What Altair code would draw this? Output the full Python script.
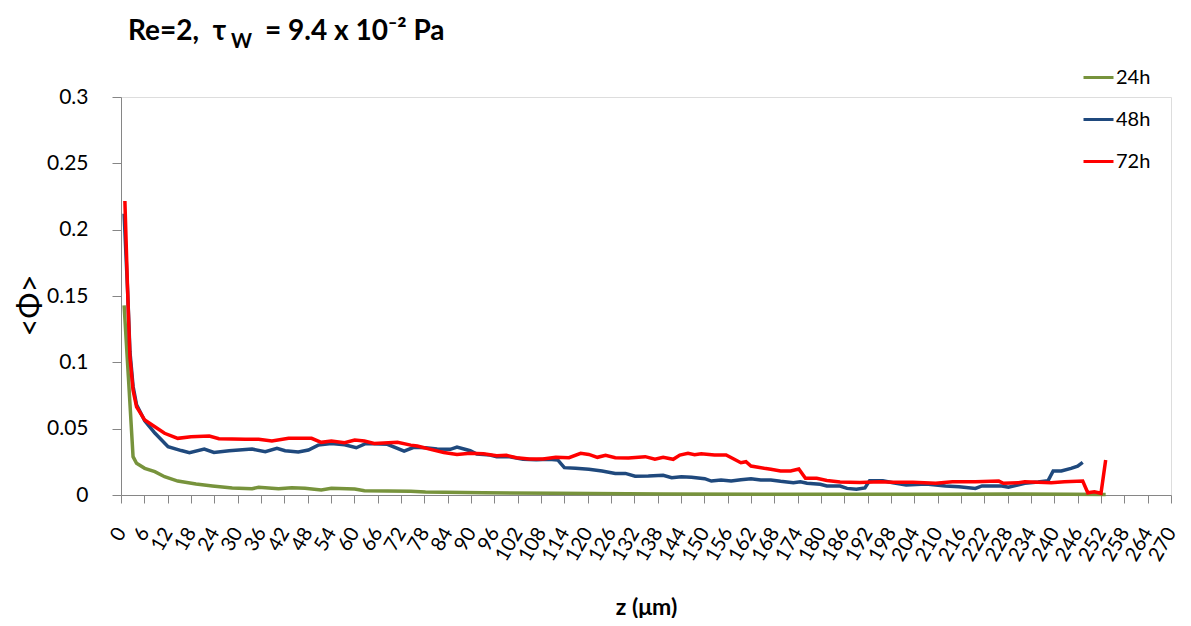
import altair as alt
import pandas as pd

# ---------------- data ----------------
series_names = ["24h", "48h", "72h"]
series_colors = ["#77933C", "#1F497D", "#FF0000"]

z24 = [0.8, 1.9, 3.1, 4.0, 6.1, 8.7, 11.2, 14.6, 19.3, 23.5, 28.6, 33.7, 35.4, 40.5,
       43.9, 47.3, 51.5, 54.1, 60.1, 62.6, 74.5, 78.3, 93.2, 111.8, 139.4, 173.0,
       211.0, 229.0, 244.3, 253.2]
v24 = [0.143, 0.089, 0.0289, 0.0239, 0.0201, 0.0176, 0.0138, 0.0105, 0.0083, 0.0068,
       0.0053, 0.0048, 0.0058, 0.0048, 0.0055, 0.0050, 0.0038, 0.0050, 0.0045, 0.0032,
       0.0028, 0.0023, 0.0017, 0.0013, 0.0008, 0.0006, 0.0005, 0.0007, 0.0005, 0.0003]

z48 = [0.8, 1.7, 2.3, 3.1, 4.0, 6.1, 8.7, 12.1, 15.5, 17.6, 21.4, 23.9, 27.8, 33.7,
       37.1, 40.1, 42.2, 45.6, 48.2, 50.7, 54.1, 57.5, 60.5, 63.0, 68.5, 72.8, 75.3,
       78.3, 81.3, 84.7, 86.4, 89.8, 91.5, 94.9, 96.6, 99.9, 103.4, 106.8, 110.1, 112.3,
       114.0, 116.9, 120.3, 123.7, 127.1, 129.7, 132.2, 135.6, 139.4, 141.6, 144.1,
       146.7, 150.1, 151.8, 154.3, 156.9, 159.4, 162.0, 164.5, 167.1, 169.6, 172.9,
       174.7, 176.4, 179.8, 181.5, 184.9, 186.7, 189.1, 191.3, 192.5, 195.9, 198.5,
       201.9, 207.0, 212.0, 215.5, 219.7, 221.4, 226.5, 228.2, 232.4, 235.8, 238.4,
       239.7, 241.8, 244.3, 246.0, 247.3]
v48 = [0.212, 0.154, 0.108, 0.082, 0.068, 0.056, 0.0467, 0.0364, 0.0335, 0.0319, 0.0346,
       0.0321, 0.0334, 0.0346, 0.0326, 0.0351, 0.0334, 0.0324, 0.0339, 0.0376, 0.0389,
       0.0379, 0.0356, 0.0389, 0.0382, 0.0331, 0.0359, 0.0356, 0.0346, 0.0344, 0.0361,
       0.0334, 0.0309, 0.0301, 0.0289, 0.0289, 0.0269, 0.0266, 0.0269, 0.0264, 0.0206,
       0.0201, 0.0194, 0.0181, 0.0163, 0.0163, 0.0141, 0.0143, 0.0148, 0.0130, 0.0138,
       0.0133, 0.0123, 0.0105, 0.0113, 0.0105, 0.0115, 0.0123, 0.0113, 0.0113, 0.0103,
       0.0093, 0.0100, 0.0088, 0.0081, 0.0068, 0.0068, 0.0050, 0.0043, 0.0053, 0.0108,
       0.0108, 0.0093, 0.0075, 0.0083, 0.0068, 0.0063, 0.0050, 0.0068, 0.0068, 0.0058,
       0.0088, 0.0098, 0.0108, 0.0181, 0.0181, 0.0201, 0.0218, 0.0246]

z72 = [1.0, 1.7, 2.3, 3.1, 4.0, 6.1, 8.7, 11.2, 14.6, 18.0, 22.7, 25.2, 32.0, 35.4,
       38.8, 43.1, 49.0, 51.5, 54.1, 57.5, 60.1, 62.6, 65.1, 71.1, 74.5, 76.2, 79.6,
       83.0, 86.4, 89.8, 93.2, 96.6, 99.1, 101.7, 105.0, 108.5, 111.8, 115.2, 118.2,
       120.3, 122.5, 124.6, 127.1, 130.5, 134.8, 137.3, 139.4, 142.0, 143.7, 145.8,
       147.5, 149.2, 152.6, 155.6, 157.7, 159.4, 160.7, 162.0, 165.4, 167.1, 169.6,
       172.2, 174.3, 176.0, 178.9, 181.5, 184.9, 190.0, 195.1, 198.5, 203.6, 209.5,
       213.8, 219.7, 225.7, 226.9, 230.8, 232.4, 239.2, 242.6, 247.3, 248.6, 250.3,
       252.0, 253.2]
v72 = [0.2216, 0.154, 0.104, 0.079, 0.0665, 0.0565, 0.0514, 0.0465, 0.0427, 0.0439,
       0.0444, 0.0424, 0.0420, 0.0420, 0.0407, 0.0427, 0.0427, 0.0397, 0.0407, 0.0394,
       0.0414, 0.0407, 0.0389, 0.0397, 0.0376, 0.0369, 0.0344, 0.0321, 0.0306, 0.0314,
       0.0311, 0.0296, 0.0299, 0.0281, 0.0271, 0.0271, 0.0284, 0.0281, 0.0314, 0.0306,
       0.0284, 0.0299, 0.0281, 0.0279, 0.0289, 0.0270, 0.0284, 0.0269, 0.0301, 0.0314,
       0.0304, 0.0311, 0.0301, 0.0301, 0.0269, 0.0243, 0.0251, 0.0218, 0.0201, 0.0194,
       0.0181, 0.0181, 0.0196, 0.0126, 0.0126, 0.0110, 0.0098, 0.0095, 0.0100, 0.0096,
       0.0096, 0.0088, 0.0100, 0.0100, 0.0105, 0.0088, 0.0093, 0.0100, 0.0093, 0.0100,
       0.0105, 0.0017, 0.0025, 0.0013, 0.0264]

x_ticks = list(range(0, 271, 6))
y_ticks = [0, 0.05, 0.1, 0.15, 0.2, 0.25, 0.3]

title_parts = ["Re=2,\u00a0 τ", "W", "= 9.4 x 10⁻² Pa"]
x_title = "z (μm)"
y_title = "<Φ>"

# ---------------- build table ----------------
rows = []
for name, zs, vs in zip(series_names, [z24, z48, z72], [v24, v48, v72]):
    for i, (z, v) in enumerate(zip(zs, vs)):
        rows.append({"z": z, "phi": v, "series": name, "order": i})
df = pd.DataFrame(rows)

FONT = "Lato"
AXIS_GRAY = "#868686"

lines = alt.Chart(df).mark_line(strokeWidth=3.5, clip=False).encode(
    x=alt.X("z:Q",
            scale=alt.Scale(domain=[0, 270], nice=False, zero=True),
            axis=alt.Axis(values=x_ticks, labelAngle=-60, labelFontSize=20, labelFont=FONT,
                          labelColor="black", grid=False, domainColor=AXIS_GRAY,
                          tickColor=AXIS_GRAY, tickSize=8, labelPadding=26,
                          labelOverlap=False, labelAlign="right", labelBaseline="middle",
                          labelBound=False, labelFlush=False,
                          title=x_title, titleFont=FONT, titleFontSize=23,
                          titleFontWeight="bold", titleColor="black",
                          titleY=112, titleBaseline="middle")),
    y=alt.Y("phi:Q",
            scale=alt.Scale(domain=[0, 0.3], nice=False),
            axis=alt.Axis(values=y_ticks, format="~g", labelFontSize=21, labelFont=FONT,
                          labelColor="black", grid=False, domainColor=AXIS_GRAY,
                          tickColor=AXIS_GRAY, tickSize=9, labelPadding=24,
                          title=y_title, titleFont=FONT, titleFontSize=31,
                          titleFontWeight="normal", titleColor="black",
                          titleX=-91, titleY=208, titleAlign="center",
                          titleBaseline="middle")),
    color=alt.Color("series:N",
                    scale=alt.Scale(domain=series_names, range=series_colors),
                    legend=alt.Legend(title=None, orient="none", legendX=961, legendY=-36,
                                      symbolType="stroke", symbolSize=900,
                                      symbolStrokeWidth=3, labelFontSize=20,
                                      labelFont=FONT, labelColor="black",
                                      rowPadding=15, labelOffset=1)),
    order="order:Q",
)

t1 = alt.Chart(pd.DataFrame({"t": [title_parts[0]]})).mark_text(
    align="left", baseline="alphabetic", font=FONT, fontSize=28, fontWeight="bold",
    color="black").encode(text="t:N", x=alt.value(7), y=alt.value(-57))
t2 = alt.Chart(pd.DataFrame({"t": [title_parts[1]]})).mark_text(
    align="left", baseline="alphabetic", font=FONT, fontSize=20, fontWeight="bold",
    color="black").encode(text="t:N", x=alt.value(110), y=alt.value(-49))
t3 = alt.Chart(pd.DataFrame({"t": [title_parts[2]]})).mark_text(
    align="left", baseline="alphabetic", font=FONT, fontSize=28, fontWeight="bold",
    color="black").encode(text="t:N", x=alt.value(144), y=alt.value(-57))

chart = alt.layer(lines, t1, t2, t3).properties(
    width=1050, height=398,
    autosize=alt.AutoSizeParams(type="none"),
    padding={"left": 113, "top": 89, "right": 12, "bottom": 123},
).configure_view(stroke=None).configure(background="white")

chart.save("out.html", embed_options={"renderer": "svg", "actions": False})
